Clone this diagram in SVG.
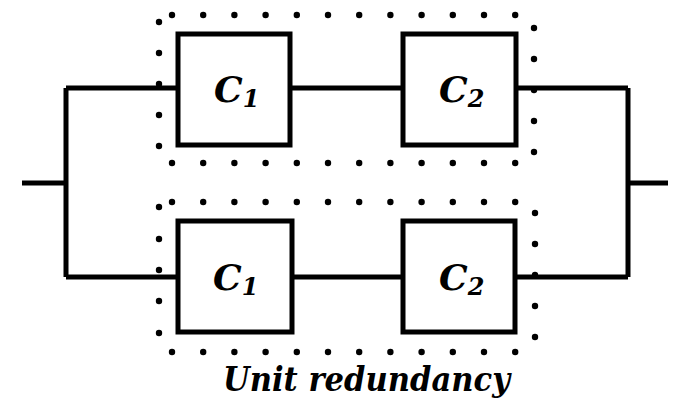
<svg xmlns="http://www.w3.org/2000/svg" width="677" height="402" viewBox="0 0 677 402">
<style>
.w{stroke:#000;stroke-width:5;fill:none;stroke-linejoin:miter}
.box{stroke:#000;stroke-width:5;fill:#fff}
.lbl{font-family:"DejaVu Serif",serif;font-weight:700;font-style:italic;font-size:36px;fill:#000}
.sub{font-size:24px}
.cap{font-family:"DejaVu Serif",serif;font-weight:700;font-style:italic;font-size:33px;fill:#000}
.d{fill:#000}
</style>
<rect width="677" height="402" fill="#fff"/>
<g id="connectors">
<path class="w" d="M22,183H66M66,88V277M66,88H178M66,277H178"/>
<path class="w" d="M290,88H403M292,277H403"/>
<path class="w" d="M516,88H628M515,277H628M628,88V277M628,183H668"/>
</g>
<g id="group-top" class="d">
<circle cx="172" cy="15" r="3.2"/><circle cx="203.2" cy="15" r="3.2"/><circle cx="234.4" cy="15" r="3.2"/><circle cx="265.6" cy="15" r="3.2"/><circle cx="296.8" cy="15" r="3.2"/><circle cx="328" cy="15" r="3.2"/><circle cx="359.2" cy="15" r="3.2"/><circle cx="390.4" cy="15" r="3.2"/><circle cx="421.6" cy="15" r="3.2"/><circle cx="452.8" cy="15" r="3.2"/><circle cx="484" cy="15" r="3.2"/><circle cx="515.2" cy="15" r="3.2"/>
<circle cx="172" cy="163" r="3.2"/><circle cx="203.2" cy="163" r="3.2"/><circle cx="234.4" cy="163" r="3.2"/><circle cx="265.6" cy="163" r="3.2"/><circle cx="296.8" cy="163" r="3.2"/><circle cx="328" cy="163" r="3.2"/><circle cx="359.2" cy="163" r="3.2"/><circle cx="390.4" cy="163" r="3.2"/><circle cx="421.6" cy="163" r="3.2"/><circle cx="452.8" cy="163" r="3.2"/><circle cx="484" cy="163" r="3.2"/><circle cx="515.2" cy="163" r="3.2"/>
<circle cx="159" cy="22" r="3.2"/><circle cx="159" cy="53" r="3.2"/><circle cx="159" cy="84" r="3.2"/><circle cx="159" cy="115" r="3.2"/><circle cx="159" cy="146" r="3.2"/>
<circle cx="534" cy="28" r="3.2"/><circle cx="534" cy="59" r="3.2"/><circle cx="534" cy="90" r="3.2"/><circle cx="534" cy="121" r="3.2"/><circle cx="534" cy="152" r="3.2"/>
</g>
<g id="group-bottom" class="d">
<circle cx="172" cy="202" r="3.2"/><circle cx="203.2" cy="202" r="3.2"/><circle cx="234.4" cy="202" r="3.2"/><circle cx="265.6" cy="202" r="3.2"/><circle cx="296.8" cy="202" r="3.2"/><circle cx="328" cy="202" r="3.2"/><circle cx="359.2" cy="202" r="3.2"/><circle cx="390.4" cy="202" r="3.2"/><circle cx="421.6" cy="202" r="3.2"/><circle cx="452.8" cy="202" r="3.2"/><circle cx="484" cy="202" r="3.2"/><circle cx="515.2" cy="202" r="3.2"/>
<circle cx="172" cy="352" r="3.2"/><circle cx="203.2" cy="352" r="3.2"/><circle cx="234.4" cy="352" r="3.2"/><circle cx="265.6" cy="352" r="3.2"/><circle cx="296.8" cy="352" r="3.2"/><circle cx="328" cy="352" r="3.2"/><circle cx="359.2" cy="352" r="3.2"/><circle cx="390.4" cy="352" r="3.2"/><circle cx="421.6" cy="352" r="3.2"/><circle cx="452.8" cy="352" r="3.2"/><circle cx="484" cy="352" r="3.2"/><circle cx="515.2" cy="352" r="3.2"/>
<circle cx="159" cy="207" r="3.2"/><circle cx="159" cy="239" r="3.2"/><circle cx="159" cy="270" r="3.2"/><circle cx="159" cy="301" r="3.2"/><circle cx="159" cy="333" r="3.2"/>
<circle cx="535" cy="213" r="3.2"/><circle cx="535" cy="244" r="3.2"/><circle cx="535" cy="275" r="3.2"/><circle cx="535" cy="306" r="3.2"/><circle cx="535" cy="337" r="3.2"/>
</g>
<g id="c1-top"><rect class="box" x="178" y="34" width="112" height="111"/><text class="lbl" x="214" y="102">C<tspan class="sub" dy="5">1</tspan></text></g>
<g id="c2-top"><rect class="box" x="403" y="34" width="113" height="111"/><text class="lbl" x="439" y="102">C<tspan class="sub" dy="5">2</tspan></text></g>
<g id="c1-bottom"><rect class="box" x="178" y="221" width="114" height="111"/><text class="lbl" x="213" y="290">C<tspan class="sub" dy="5">1</tspan></text></g>
<g id="c2-bottom"><rect class="box" x="403" y="221" width="112" height="111"/><text class="lbl" x="439" y="290">C<tspan class="sub" dy="5">2</tspan></text></g>
<text class="cap" x="223" y="391" textLength="287" lengthAdjust="spacingAndGlyphs">Unit redundancy</text>
</svg>
